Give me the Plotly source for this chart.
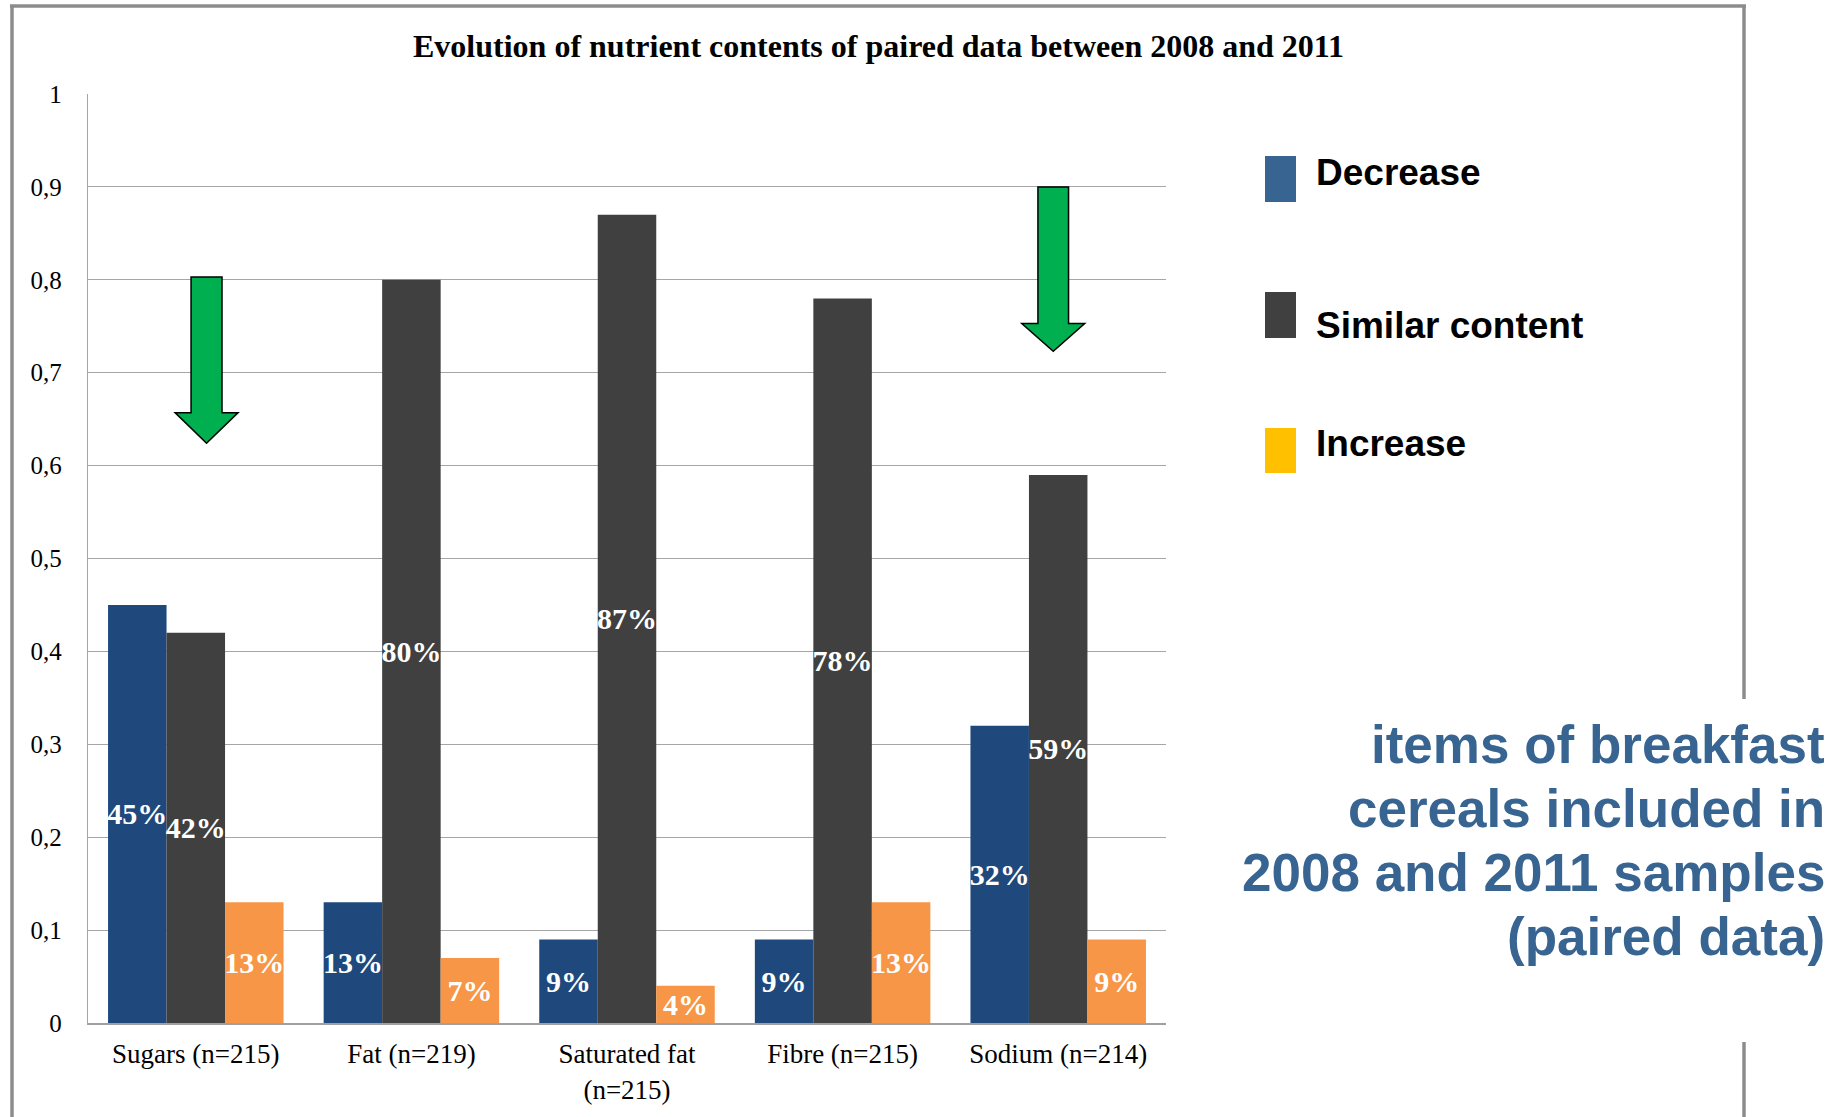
import plotly.graph_objects as go

# ---------------- data ----------------
categories = ["Sugars (n=215)", "Fat (n=219)", "Saturated fat<br>(n=215)",
              "Fibre (n=215)", "Sodium (n=214)"]
decrease = [0.45, 0.13, 0.09, 0.09, 0.32]
similar = [0.42, 0.80, 0.87, 0.78, 0.59]
increase = [0.13, 0.07, 0.04, 0.13, 0.09]
series_names = ["Decrease", "Similar content", "Increase"]
y_ticks = [0, 0.1, 0.2, 0.3, 0.4, 0.5, 0.6, 0.7, 0.8, 0.9, 1]
title_text = "Evolution of nutrient contents of paired data between 2008 and 2011"
side_lines = ["items of breakfast", "cereals included in",
              "2008 and 2011 samples", "(paired data)"]

# ---------------- layout geometry (pixels) ----------------
W, H = 1835, 1117
L, R, T, B = 88, 1166, 94, 1023


def px(x):
    return (x - L) / (R - L)


def py(y):
    return (B - y) / (B - T)


SERIF = "Liberation Serif, Times New Roman, serif"
SANS = "Liberation Sans, Arial, sans-serif"

bar_colors = ["#1F497D", "#404040", "#F79646"]
legend_colors = ["#386491", "#404040", "#FFC000"]
accent = "#386491"

x_idx = list(range(len(categories)))

fig = go.Figure()
for name, vals, col in zip(series_names, [decrease, similar, increase], bar_colors):
    fig.add_trace(go.Bar(
        x=x_idx, y=vals, name=name,
        marker=dict(color=col, line=dict(width=0)),
        texttemplate="%{y:.0%}",
        textposition="inside", insidetextanchor="middle",
        textangle=0, constraintext="none",
        textfont=dict(family=SERIF, size=30, color="white", weight="bold"),
        showlegend=False,
    ))

shapes = []


def arrow(x0, x1, hx0, hx1, ytop, ybase, ytip):
    xc = (x0 + x1) / 2
    path = (f"M {x0} {ytop} L {x1} {ytop} L {x1} {ybase} L {hx1} {ybase} "
            f"L {xc} {ytip} L {hx0} {ybase} L {x0} {ybase} Z")
    return dict(type="path", xref="x", yref="y", path=path,
                fillcolor="#00B050", line=dict(color="black", width=1.5), layer="above")


# green arrows (decoration)
shapes.append(arrow(-0.022, 0.1215, -0.096, 0.196, 0.803, 0.657, 0.624))
shapes.append(arrow(3.906, 4.048, 3.831, 4.123, 0.900, 0.753, 0.723))

# outer frame
fc = "#8C8C8C"
fw = 3.5
shapes.append(dict(type="line", xref="paper", yref="paper",
                   x0=px(12), x1=px(12), y0=py(5), y1=py(H + 5), line=dict(color=fc, width=fw)))
shapes.append(dict(type="line", xref="paper", yref="paper",
                   x0=px(10), x1=px(1746), y0=py(6), y1=py(6), line=dict(color=fc, width=fw)))
shapes.append(dict(type="line", xref="paper", yref="paper",
                   x0=px(1744), x1=px(1744), y0=py(5), y1=py(699), line=dict(color=fc, width=fw)))
shapes.append(dict(type="line", xref="paper", yref="paper",
                   x0=px(1744), x1=px(1744), y0=py(1042), y1=py(H + 5), line=dict(color=fc, width=fw)))

# manual legend
leg_boxes = [(156, 202), (292, 338), (428, 473)]
leg_text_y = [172, 325, 443]
annotations = []
for (y0, y1), ty, name, col in zip(leg_boxes, leg_text_y, series_names, legend_colors):
    shapes.append(dict(type="rect", xref="paper", yref="paper",
                       x0=px(1265), x1=px(1296), y0=py(y1), y1=py(y0),
                       fillcolor=col, line=dict(width=0)))
    annotations.append(dict(xref="paper", yref="paper", x=px(1314), y=py(ty),
                            xanchor="left", yanchor="middle", showarrow=False,
                            text=name, font=dict(family=SANS, size=37, color="black", weight="bold")))

# side text
for i, line in enumerate(side_lines):
    annotations.append(dict(xref="paper", yref="paper", x=px(1827), y=py(744 + 64 * i),
                            xanchor="right", yanchor="middle", showarrow=False,
                            text=line, font=dict(family=SANS, size=53, color=accent, weight="bold")))

# title
annotations.append(dict(xref="paper", yref="paper", x=px(878), y=py(46),
                        xanchor="center", yanchor="middle", showarrow=False,
                        text=title_text,
                        font=dict(family=SERIF, size=32, color="black", weight="bold")))

fig.update_layout(
    width=W, height=H,
    margin=dict(l=L, r=W - R, t=T, b=H - B, pad=0, autoexpand=False),
    paper_bgcolor="white", plot_bgcolor="white",
    barmode="group", bargap=0.186, bargroupgap=0,
    separators=", ",
    shapes=shapes, annotations=annotations,
    xaxis=dict(
        range=[-0.5, len(categories) - 0.5], automargin=False,
        tickmode="array", tickvals=x_idx, ticktext=categories,
        showgrid=False, zeroline=False,
        showline=True, linecolor="#A0A0A0", linewidth=2,
        ticks="", ticklabelstandoff=6,
        tickfont=dict(family=SERIF, size=27, color="black"),
    ),
    yaxis=dict(
        range=[0, 1], tickmode="array", tickvals=y_ticks, automargin=False,
        showgrid=True, gridcolor="#A6A6A6", gridwidth=1.3,
        zeroline=False, showline=True, linecolor="#A6A6A6", linewidth=1.3,
        ticks="", ticklabelstandoff=20,
        tickfont=dict(family=SERIF, size=25, color="black"),
    ),
)

fig.write_html("out.html")
